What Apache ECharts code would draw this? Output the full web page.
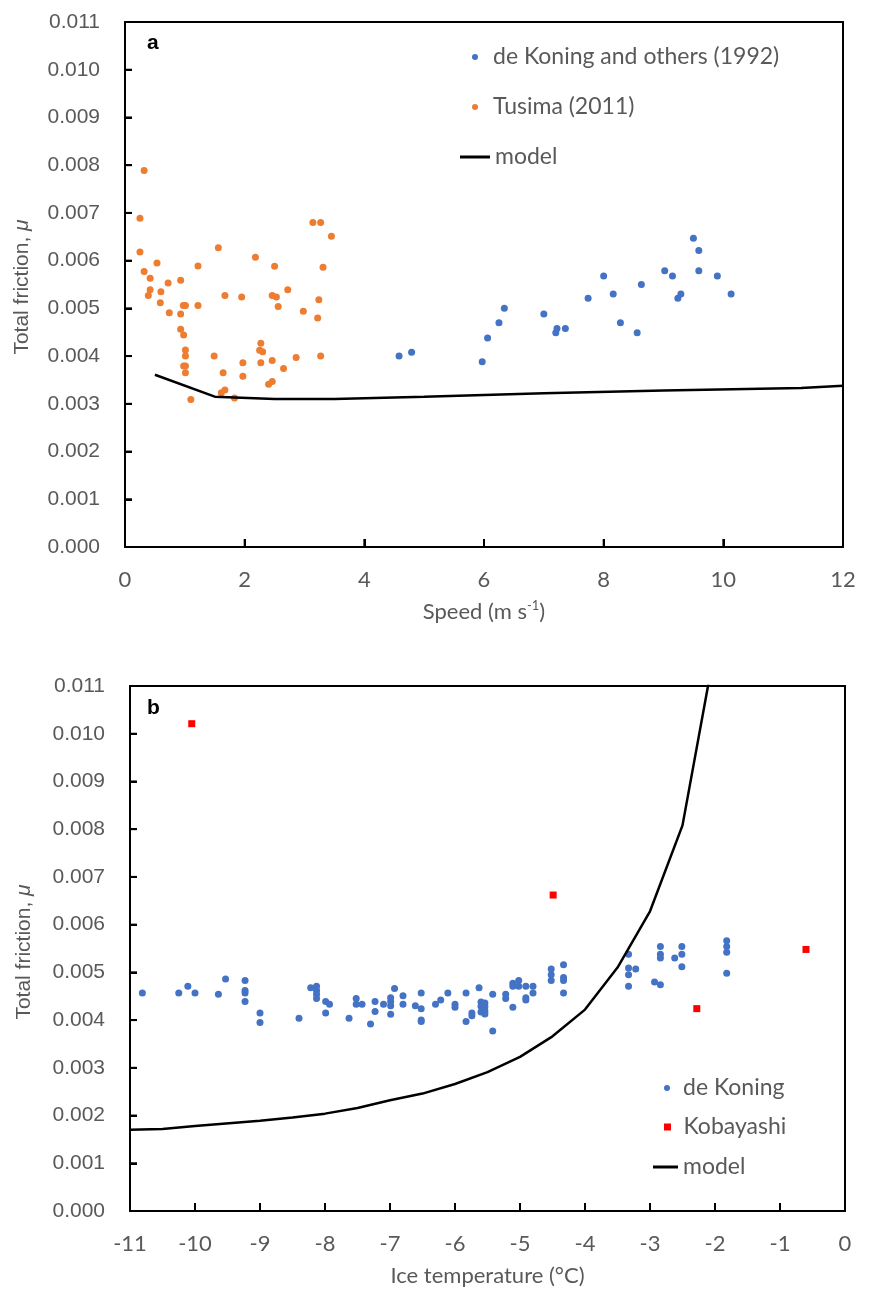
<!DOCTYPE html>
<html><head><meta charset="utf-8">
<script src="https://cdn.jsdelivr.net/npm/echarts@6/dist/echarts.min.js"></script>
<style>html,body{margin:0;padding:0;background:#fff}#c{width:871px;height:1290px}</style>
</head><body><div id="c"></div>
<script>
// ---------- Panel a data ----------
const koningSpeed = [4.58,4.79,5.97,6.06,6.25,6.34,7.00,7.20,7.22,7.36,7.74,8.00,8.16,8.28,8.56,8.63,9.02,9.15,9.24,9.29,9.50,9.59,9.59,9.90,10.13];
const koningMuA   = [0.00400,0.00408,0.00388,0.00438,0.00470,0.00500,0.00488,0.00449,0.00458,0.00458,0.00521,0.00568,0.00530,0.00470,0.00449,0.00550,0.00579,0.00568,0.00521,0.00530,0.00647,0.00621,0.00579,0.00568,0.00530];
const tusimaSpeed = [0.32,0.25,0.25,0.32,0.42,0.42,0.39,0.59,0.60,0.535,0.72,0.74,0.93,0.93,0.975,1.01,0.93,0.98,1.01,1.01,0.98,1.01,1.01,1.10,1.22,1.22,1.49,1.56,1.64,1.61,1.67,1.67,1.83,1.95,1.97,1.97,2.18,2.27,2.25,2.30,2.27,2.40,2.46,2.46,2.50,2.46,2.53,2.56,2.65,2.72,2.86,2.98,3.14,3.27,3.45,3.31,3.24,3.22,3.27];
const tusimaMu    = [0.00789,0.00689,0.00618,0.00577,0.00563,0.00539,0.00527,0.00512,0.00535,0.00595,0.00553,0.00491,0.00559,0.00488,0.00506,0.00506,0.00456,0.00444,0.00413,0.00400,0.00379,0.00379,0.00365,0.00309,0.00589,0.00506,0.00400,0.00627,0.00365,0.00323,0.00329,0.00527,0.00312,0.00524,0.00386,0.00358,0.00607,0.00427,0.00412,0.00409,0.00386,0.00341,0.00347,0.00391,0.00588,0.00527,0.00524,0.00504,0.00374,0.00539,0.00397,0.00494,0.00680,0.00680,0.00651,0.00586,0.00518,0.00480,0.00400];
const modelSpeed  = [0.5,1.5,2.5,3.5,5,7,9,11.3,12];
const modelMuA    = [0.00361,0.00315,0.00310,0.00310,0.00315,0.00322,0.00328,0.00333,0.00338];
const speedTicks  = {min:0, max:12, step:2};
const speedTickVals = [2,4,6,8,10];

// ---------- Panel b data ----------
const koningTemp = [-10.81,-10.25,-10.11,-10.0,-9.64,-9.53,-9.23,-9.23,-9.23,-9.23,-9.0,-9.0,-8.40,-8.22,-8.13,-8.13,-8.13,-8.13,-7.99,-7.93,-7.99,-7.63,-7.52,-7.52,-7.43,-7.30,-7.23,-7.23,-7.10,-6.99,-6.99,-6.99,-6.99,-6.93,-6.80,-6.80,-6.61,-6.52,-6.52,-6.52,-6.52,-6.30,-6.22,-6.11,-6.0,-6.0,-5.83,-5.83,-5.74,-5.74,-5.63,
  -5.60,-5.60,-5.60,-5.54,-5.54,-5.54,-5.54,-5.42,-5.42,-5.22,-5.22,-5.11,-5.11,-5.11,-5.02,-5.02,-4.91,-4.91,-4.91,-4.80,-4.80,-4.52,-4.52,-4.52,-4.33,-4.33,-4.33,-4.33,-3.33,-3.33,-3.33,-3.33,-3.22,-2.93,-2.84,-2.84,-2.84,-2.84,-2.62,-2.51,-2.51,-2.51,-1.82,-1.82,-1.82,-1.82];
const koningMuB  = [0.00457,0.00457,0.00471,0.00457,0.00454,0.00486,0.00483,0.00462,0.00457,0.00439,0.00415,0.00395,0.00404,0.00468,0.00471,0.00462,0.00454,0.00445,0.00439,0.00433,0.00415,0.00404,0.00445,0.00433,0.00433,0.00392,0.00439,0.00418,0.00433,0.00447,0.00439,0.00430,0.00412,0.00466,0.00451,0.00433,0.00430,0.00457,0.00424,0.00400,0.00397,0.00433,0.00442,0.00457,0.00433,0.00427,0.00457,0.00397,0.00415,0.00409,0.00468,
  0.00438,0.00429,0.00417,0.00436,0.00428,0.00419,0.00413,0.00454,0.00377,0.00454,0.00445,0.00427,0.00477,0.00471,0.00483,0.00471,0.00471,0.00447,0.00442,0.00471,0.00457,0.00507,0.00495,0.00483,0.00516,0.00489,0.00483,0.00457,0.00538,0.00509,0.00495,0.00471,0.00507,0.00480,0.00474,0.00554,0.00538,0.00530,0.00530,0.00554,0.00538,0.00512,0.00566,0.00554,0.00542,0.00498];
const kobayashiTemp = [-10.05,-4.49,-2.28,-0.60];
const kobayashiMu   = [0.01021,0.00662,0.00424,0.00548];
const modelTemp = [-11,-10.5,-10,-9,-8.5,-8,-7.5,-7,-6.5,-6,-5.5,-5,-4.5,-4,-3.5,-3,-2.5,-2];
const modelMuB  = [0.00170,0.00172,0.00178,0.00189,0.00196,0.00204,0.00216,0.00232,0.00246,0.00266,0.00291,0.00323,0.00366,0.00422,0.00510,0.00628,0.00808,0.0118];
const tempTicks = {min:-11, max:0, step:1};
const tempTickVals = [-10,-9,-8,-7,-6,-5,-4,-3,-2,-1];
const muTicks   = {min:0, max:0.011, step:0.001};
const muTickVals = [0.001,0.002,0.003,0.004,0.005,0.006,0.007,0.008,0.009,0.010];

const zip = (a,b) => a.map((v,i)=>[v,b[i]]);
const GREY = '#595959';
const CAL = 'Lato';
const ARI = 'Liberation Sans';
const SQUARE = 'path://M0,0L10,0L10,10L0,10Z';
const LINE = {show:true, onZero:false, lineStyle:{color:'#000', width:2}};
const TICK = {show:true, inside:true, length:7, lineStyle:{color:'#000', width:2}};

function yAxis(gi){
  return {gridIndex:gi, type:'value', position:'left', min:muTicks.min, max:muTicks.max, interval:muTicks.step,
    axisLine:LINE, axisTick:TICK,
    axisLabel:{margin:25, fontFamily:ARI, fontSize:21, color:GREY, formatter:v=>v.toFixed(3)},
    splitLine:{show:false}};
}
function xAxis(gi, t, name){
  return {gridIndex:gi, type:'value', position:'bottom', min:t.min, max:t.max, interval:t.step,
    axisLine:LINE, axisTick:Object.assign({}, TICK, {length:8}),
    axisLabel:{margin:22, fontFamily:CAL, fontSize:22, color:GREY},
    splitLine:{show:false},
    name:name, nameLocation:'middle', nameGap:52,
    nameTextStyle:{fontFamily:CAL, fontSize:22, color:GREY, lineHeight:26,
      rich:{sup:{fontFamily:CAL, fontSize:13, color:GREY, verticalAlign:'top', lineHeight:26}}}};
}
// frame edges (top and right) drawn as plain axis lines
function frameX(gi, t){
  return {gridIndex:gi, type:'value', position:'top', min:t.min, max:t.max, interval:t.step,
    axisLine:LINE, axisTick:{show:false}, axisLabel:{show:false}, splitLine:{show:false}};
}
function frameY(gi){
  return {gridIndex:gi, type:'value', position:'right', min:muTicks.min, max:muTicks.max, interval:muTicks.step,
    axisLine:LINE, axisTick:{show:false}, axisLabel:{show:false}, splitLine:{show:false}};
}
// inward tick marks placed through the axes' own scales
function tickSeries(axisIdx, data, dx, dy){
  return {type:'custom', xAxisIndex:axisIdx, yAxisIndex:axisIdx, data:data, silent:true, clip:false, z:6,
    renderItem:(params, api) => {
      const p = api.coord([api.value(0), api.value(1)]);
      return {type:'line', shape:{x1:p[0], y1:p[1], x2:p[0]+dx, y2:p[1]+dy}, style:{stroke:'#000', lineWidth:2}};
    }};
}
function leg(name, left, cy, w, h, icon){
  return {data:[{name:name, icon:icon}], left:left, top:cy-13, padding:0, itemWidth:w, itemHeight:h,
    selectedMode:false, symbolKeepAspect:true,
    textStyle:{fontFamily:CAL, fontSize:23, color:GREY, lineHeight:26}};
}
function yTitle(cx, cy){
  return {type:'text', x:cx, y:cy, rotation:Math.PI/2,
    style:{text:'Total friction, {it|μ}', fill:GREY, font:'21px "Liberation Sans"', align:'center', verticalAlign:'middle',
      rich:{it:{fill:GREY, font:'italic 21px "Liberation Sans"'}}}};
}

const chart = echarts.init(document.getElementById('c'), null, {renderer:'canvas'});
chart.setOption({
  backgroundColor:'#fff',
  animation:false,
  grid:[
    {left:125, top:22, width:718, height:525, show:false, containLabel:false},
    {left:130, top:686, width:715, height:527, show:false, containLabel:false}
  ],
  xAxis:[xAxis(0, speedTicks, 'Speed (m s{sup|-1})'), xAxis(1, tempTicks, 'Ice temperature (°C)'), frameX(0, speedTicks), frameX(1, tempTicks)],
  yAxis:[yAxis(0), yAxis(1), frameY(0), frameY(1)],
  legend:[
    leg('de Koning and others (1992)', 472, 57, 26, 6, 'circle'),
    leg('Tusima (2011)', 472, 107, 26, 6, 'circle'),
    leg('model', 460, 157, 30, 3, 'rect'),
    leg('de Koning', 664, 1088, 22, 6, 'circle'),
    leg('Kobayashi', 664, 1127, 22, 7, SQUARE),
    leg('model', 653, 1167, 25, 3, 'rect')
  ],
  graphic:[
    {type:'text', left:147, top:33, style:{text:'a', font:'bold 21px "Liberation Sans"', fill:'#000'}},
    {type:'text', left:147, top:698, style:{text:'b', font:'bold 21px "Liberation Sans"', fill:'#000'}},
    yTitle(22, 287),
    yTitle(24, 952)
  ],
  series:[
    {type:'line', name:'model', xAxisIndex:0, yAxisIndex:0, data:zip(modelSpeed, modelMuA), showSymbol:false,
      lineStyle:{color:'#000', width:2.5}, itemStyle:{color:'#000'}, clip:true, z:3},
    {type:'scatter', name:'de Koning and others (1992)', xAxisIndex:0, yAxisIndex:0, data:zip(koningSpeed, koningMuA),
      symbol:'circle', symbolSize:7, itemStyle:{color:'#4472C4', opacity:1}},
    {type:'scatter', name:'Tusima (2011)', xAxisIndex:0, yAxisIndex:0, data:zip(tusimaSpeed, tusimaMu),
      symbol:'circle', symbolSize:7, itemStyle:{color:'#ED7D31', opacity:1}},
    {type:'line', name:'model', xAxisIndex:1, yAxisIndex:1, data:zip(modelTemp, modelMuB), showSymbol:false,
      lineStyle:{color:'#000', width:2.5}, itemStyle:{color:'#000'}, clip:true, z:3},
    {type:'scatter', name:'de Koning', xAxisIndex:1, yAxisIndex:1, data:zip(koningTemp, koningMuB),
      symbol:'circle', symbolSize:7, itemStyle:{color:'#4472C4', opacity:1}},
    {type:'scatter', name:'Kobayashi', xAxisIndex:1, yAxisIndex:1, data:zip(kobayashiTemp, kobayashiMu),
      symbol:'rect', symbolSize:7, itemStyle:{color:'#FF0000', opacity:1}},
    tickSeries(0, speedTickVals.map(v=>[v, muTicks.min]), 0, -8),
    tickSeries(0, muTickVals.map(v=>[speedTicks.min, v]), 7, 0),
    tickSeries(1, tempTickVals.map(v=>[v, muTicks.min]), 0, -8),
    tickSeries(1, muTickVals.map(v=>[tempTicks.min, v]), 7, 0)
  ]
});
</script></body></html>
